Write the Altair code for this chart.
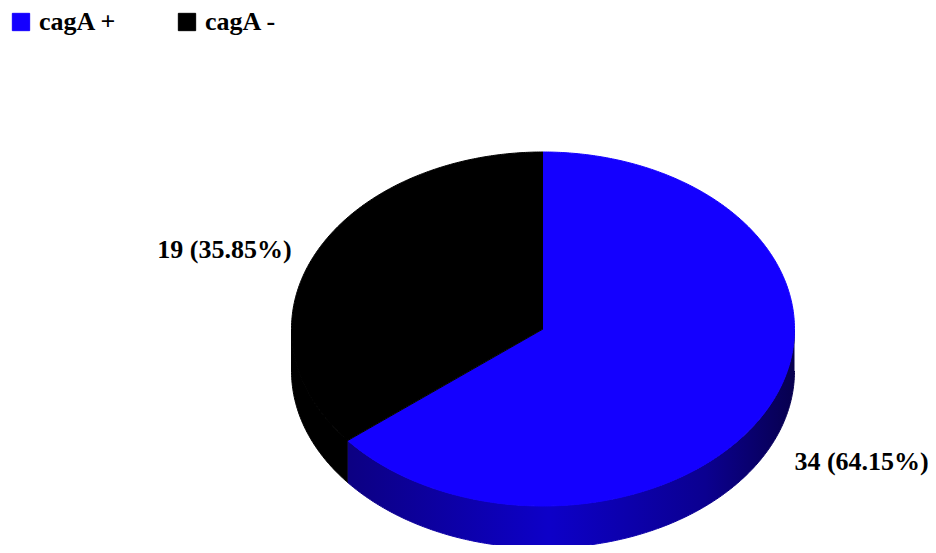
import numpy as np
import pandas as pd
import altair as alt

# ---- data ----
categories = ["cagA +", "cagA -"]
counts = [34, 19]
top_colors = ["#1400ff", "#000000"]

# ---- layout (pixels inside the plot area) ----
W, H = 920, 537
CX, CY, RX, RY, DEPTH = 535, 321, 251.5, 177, 42
LABEL_PAD = 27
FONT_SIZE = 26

side_fills = [
    alt.Gradient(
        gradient="linear", x1=0, y1=0, x2=1, y2=0,
        stops=[
            alt.GradientStop(offset=0, color="#0c0082"),
            alt.GradientStop(offset=0.45, color="#0d00c8"),
            alt.GradientStop(offset=0.8, color="#0b0090"),
            alt.GradientStop(offset=1, color="#07004e"),
        ],
    ),
    "#000000",
]

total = sum(counts)
fr = np.array(counts) / total
ends = np.cumsum(fr) * 360.0
starts = ends - fr * 360.0


def pt(theta_deg, dy=0.0):
    t = np.radians(theta_deg)
    return CX + RX * np.sin(t), CY - RY * np.cos(t) + dy


top_rows, side_rows, label_rows = [], [], []
for cat, cnt, a, b in zip(categories, counts, starts, ends):
    th = np.linspace(a, b, max(3, int((b - a) * 2)))
    xs, ys = pt(th)
    top_rows.append(dict(cat=cat, i=0, x=CX, y=CY))
    for j, (x, y) in enumerate(zip(xs, ys)):
        top_rows.append(dict(cat=cat, i=j + 1, x=x, y=y))
    lo, hi = max(a, 90.0), min(b, 270.0)
    if hi > lo:
        th = np.linspace(lo, hi, max(3, int((hi - lo) * 2)))
        xs, ys = pt(th)
        xb, yb = pt(th[::-1], DEPTH)
        allx = np.concatenate([xs, xb])
        ally = np.concatenate([ys, yb])
        for j, (x, y) in enumerate(zip(allx, ally)):
            side_rows.append(dict(cat=cat, i=j, x=x, y=y))
    mid = (a + b) / 2
    s, c = np.sin(np.radians(mid)), np.cos(np.radians(mid))
    lx = CX + (RX + LABEL_PAD) * s
    ly = CY - 1.12 * RY * c + (DEPTH if c < 0 else 0) + 6
    label_rows.append(dict(cat=cat, x=lx, y=ly,
                           label=f"{cnt} ({cnt / total * 100:.2f}%)",
                           right=bool(s > 0)))

top_df = pd.DataFrame(top_rows)
side_df = pd.DataFrame(side_rows)
label_df = pd.DataFrame(label_rows)

xs = alt.Scale(domain=[0, W], nice=False, zero=False)
ys = alt.Scale(domain=[0, H], nice=False, zero=False, reverse=True)
X = alt.X("x:Q", scale=xs, axis=None)
Y = alt.Y("y:Q", scale=ys, axis=None)
cscale = alt.Scale(domain=categories, range=top_colors)

layers = []
for cat, fill in zip(categories, side_fills):
    layers.append(
        alt.Chart(side_df).transform_filter(alt.datum.cat == cat)
        .mark_line(fill=fill, stroke=fill, strokeWidth=1)
        .encode(x=X, y=Y, order=alt.Order("i:Q"))
    )

top = alt.Chart(top_df).mark_line(strokeWidth=1).encode(
    x=X, y=Y, order=alt.Order("i:Q"), detail="cat:N",
    fill=alt.Fill("cat:N", scale=cscale, sort=categories,
                  legend=alt.Legend(
                      title=None, orient="none", legendX=0, legendY=1,
                      direction="horizontal", padding=0,
                      symbolType="square", symbolSize=300,
                      symbolStrokeColor="#aaaaaa", symbolStrokeWidth=1,
                      symbolOpacity=1,
                      labelFont="Liberation Serif", labelFontWeight="bold",
                      labelFontSize=FONT_SIZE, labelColor="#000000",
                      labelOffset=5, columnPadding=57)),
    stroke=alt.Stroke("cat:N", scale=cscale, legend=None),
)
layers.append(top)

for right in [True, False]:
    layers.append(
        alt.Chart(label_df).transform_filter(alt.datum.right == right)
        .mark_text(font="Liberation Serif", fontWeight="bold",
                   fontSize=FONT_SIZE, color="#000000",
                   align="left" if right else "right", baseline="middle")
        .encode(x=X, y=Y, text="label:N")
    )

chart = alt.layer(*layers).properties(
    width=W, height=H, padding=0,
    autosize=alt.AutoSizeParams(type="none"),
).configure_view(stroke=None)

chart.save("out.html", embed_options={"renderer": "svg", "actions": False})
